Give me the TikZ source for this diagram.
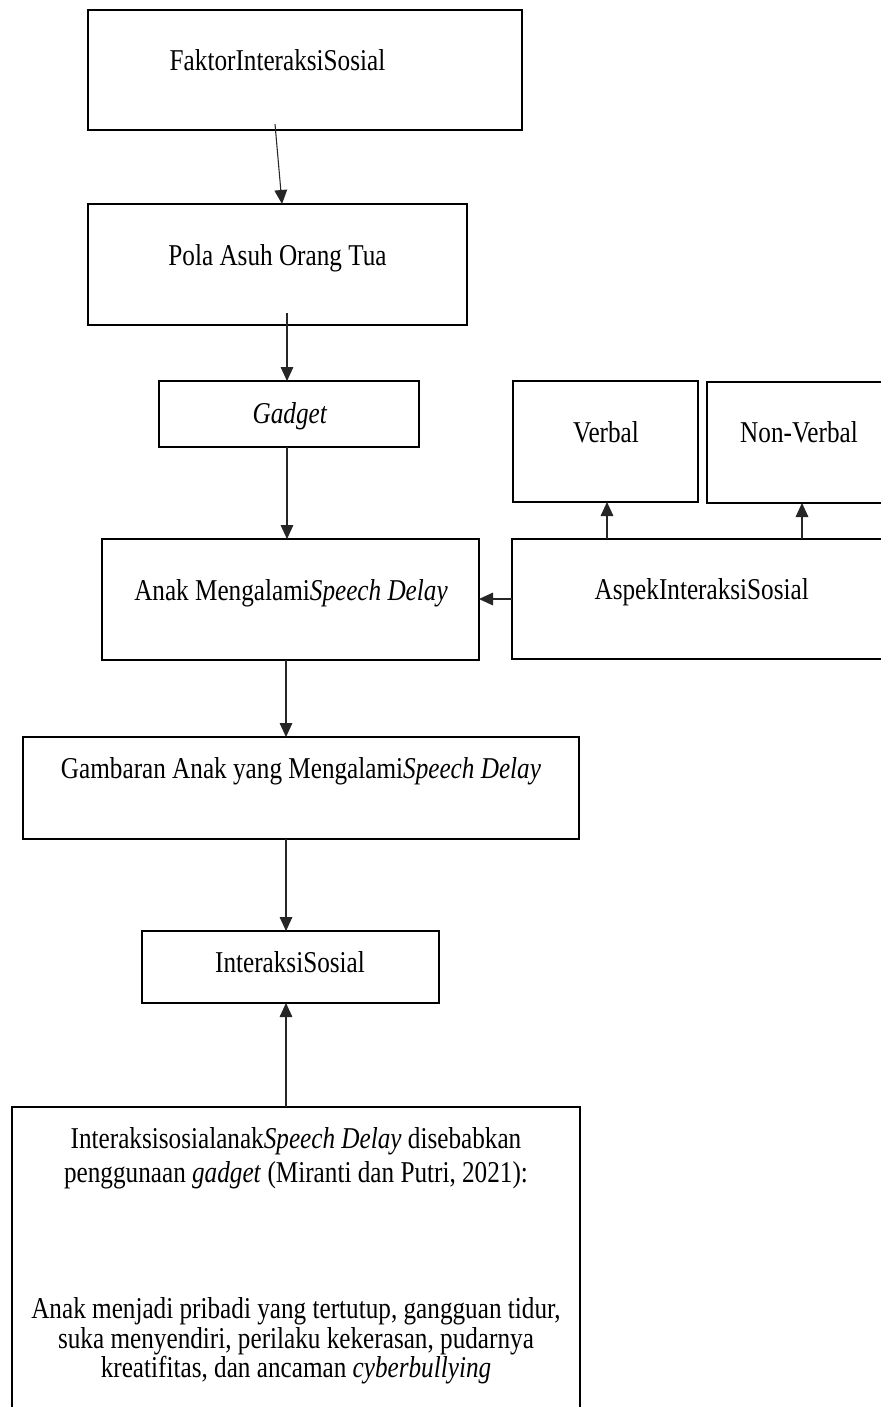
\documentclass[tikz,border=0pt]{standalone}
\usepackage{fontspec}
\setmainfont{Liberation Serif}
\usetikzlibrary{arrows.meta,calc}
\newcommand\vtx[1]{\scalebox{1}[1.2]{#1}}
\begin{document}
\begin{tikzpicture}[x=0.75pt,y=-0.75pt,
  box/.style={draw=black,line width=1.7pt,inner sep=0pt,outer sep=0pt,rectangle},
  lbl/.style={anchor=base,inner sep=0pt,font=\fontsize{18.9}{22}\selectfont},
  arr/.style={draw=black!85,line width=0.8pt,-{Triangle[width=9.5pt,length=10.5pt]}}]
\useasboundingbox (0,0) rectangle (881,1407);
\clip (0,0) rectangle (881,1407);
% boxes
\node[box,minimum width=325.5pt,minimum height=90pt]    (faktor) at (305,70) {};
\node[box,minimum width=284.25pt,minimum height=90.75pt] (pola)   at (277.5,264.5) {};
\node[box,minimum width=195pt,minimum height=49.5pt]    (gadget) at (289,414) {};
\node[box,minimum width=282.75pt,minimum height=90.75pt] (anak)  at (290.5,599.5) {};
\node[box,minimum width=306pt,minimum height=90pt]      (aspek)  at (716,599) {};
\node[box,minimum width=138.75pt,minimum height=90.75pt] (verbal) at (605.5,441.5) {};
\node[box,minimum width=159.75pt,minimum height=90.75pt] (nonverbal) at (813.5,442.5) {};
\node[box,minimum width=417pt,minimum height=76.5pt]    (gambaran) at (301,788) {};
\node[box,minimum width=222.75pt,minimum height=54pt]   (interaksi) at (290.5,967) {};
\node[box,minimum width=425.6pt,minimum height=242.25pt] (bawah) at (296,1268.5) {};
% texts
\node[lbl] (tfaktor) at (277.5,70) {\vtx{FaktorInteraksiSosial}};
\node[lbl] (tpola) at (277.5,265) {\vtx{Pola Asuh Orang Tua}};
\node[lbl] (tgadget) at (290,423) {\vtx{\textit{Gadget}}};
\node[lbl] (tanak) at (291,600) {\vtx{Anak Mengalami\textit{Speech Delay}}};
\node[lbl] (tverbal) at (606,442) {\vtx{Verbal}};
\node[lbl] (tnonverbal) at (799,442) {\vtx{Non-Verbal}};
\node[lbl] (taspek) at (701.7,599) {\vtx{AspekInteraksiSosial}};
\node[lbl] (tgambaran) at (301,778) {\vtx{Gambaran Anak yang Mengalami\textit{Speech Delay}}};
\node[lbl] (tinteraksi) at (290,972) {\vtx{InteraksiSosial}};
\node[lbl] (b1) at (296,1148) {\vtx{Interaksisosialanak\textit{Speech Delay} disebabkan}};
\node[lbl] (b2) at (296,1182) {\vtx{penggunaan \textit{gadget} (Miranti dan Putri, 2021):}};
\node[lbl] (b3) at (296,1318) {\vtx{Anak menjadi pribadi yang tertutup, gangguan tidur,}};
\node[lbl] (b4) at (296,1348) {\vtx{suka menyendiri, perilaku kekerasan, pudarnya}};
\node[lbl] (b5) at (296,1377) {\vtx{kreatifitas, dan ancaman \textit{cyberbullying}}};
% connectors
\coordinate (col) at (287,0);
\coordinate (colb) at (286,0);
\coordinate (rowa) at (0,599);
\coordinate (cv) at (607,0);
\coordinate (cn) at (802,0);
\draw[arr] ([xshift=-22.5pt,yshift=4.5pt]faktor.south) -- ([xshift=3.4pt]pola.north);
\draw[arr] ([yshift=9pt]pola.south -| col) -- (gadget.north -| col);
\draw[arr] (gadget.south -| col) -- (anak.north -| col);
\draw[arr] (anak.south -| colb) -- (gambaran.north -| colb);
\draw[arr] (gambaran.south -| colb) -- (interaksi.north -| colb);
\draw[arr] (bawah.north -| colb) -- (interaksi.south -| colb);
\draw[arr] (aspek.west |- rowa) -- (anak.east |- rowa);
\draw[arr] (aspek.north -| cv) -- (verbal.south -| cv);
\draw[arr] (aspek.north -| cn) -- (nonverbal.south -| cn);
\end{tikzpicture}
\end{document}
